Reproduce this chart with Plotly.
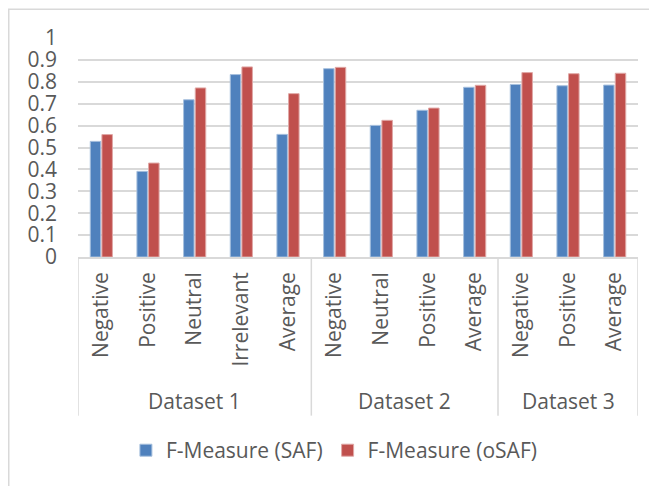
import plotly.graph_objects as go

group_names = ["Dataset 1", "Dataset 2", "Dataset 3"]
group_sizes = [5, 4, 3]
categories = ["Negative", "Positive", "Neutral", "Irrelevant", "Average",
              "Negative", "Neutral", "Positive", "Average",
              "Negative", "Positive", "Average"]
saf = [0.528, 0.391, 0.718, 0.833, 0.560,
       0.860, 0.601, 0.670, 0.775,
       0.788, 0.782, 0.785]
osaf = [0.559, 0.429, 0.772, 0.868, 0.746,
        0.866, 0.624, 0.680, 0.784,
        0.842, 0.837, 0.839]
yticks = [0, 0.1, 0.2, 0.3, 0.4, 0.5, 0.6, 0.7, 0.8, 0.9, 1]
ytext = ["0", "0.1", "0.2", "0.3", "0.4", "0.5", "0.6", "0.7", "0.8", "0.9", "1"]

font = "Open Sans"
grey = "#595959"
line_grey = "#D9D9D9"

xpos = list(range(len(categories)))

fig = go.Figure()
fig.add_trace(go.Bar(x=xpos, y=saf, name="F-Measure (SAF)",
                     marker=dict(color="#4F81BD", line=dict(color="#A7C0DE", width=1))))
fig.add_trace(go.Bar(x=xpos, y=osaf, name="F-Measure (oSAF)",
                     marker=dict(color="#C0504D", line=dict(color="#E0A8A6", width=1))))

# page has an 8px body margin; figure is 649x478 so the page is 657x486
W, H = 649, 478
pl, pr, pt, pb = 70, 630, 29.5, 249  # plot area in figure px
plot_w = pr - pl
plot_h = pb - pt

fig.update_layout(
    width=W, height=H,
    paper_bgcolor="white", plot_bgcolor="white",
    margin=dict(l=pl, r=W - pr, t=pt, b=H - pb, autoexpand=False),
    bargap=0.5, bargroupgap=0.1,
    font=dict(family=font, color=grey, size=20),
    legend=dict(orientation="h", x=0.457, xanchor="center", y=(pb - 443) / plot_h,
                yanchor="middle", font=dict(family=font, size=21, color=grey)),
    showlegend=True,
)
fig.update_yaxes(range=[0, 1], tickvals=yticks, ticktext=ytext, automargin=False,
                 showgrid=True, gridcolor=line_grey, gridwidth=1.5,
                 zeroline=False, showline=False, ticks="", ticklabelstandoff=20,
                 tickfont=dict(family=font, size=21, color=grey))
fig.update_xaxes(range=[-0.5, len(categories) - 0.5], tickvals=xpos, ticktext=categories,
                 tickangle=-90, automargin=False, showgrid=False, zeroline=False,
                 showline=True, linecolor=line_grey, linewidth=1.5,
                 ticks="", ticklabelstandoff=5,
                 tickfont=dict(family=font, size=21, color=grey))

# group dividers and labels
div_bottom = (pb - 408) / plot_h
label_y = (pb - 393) / plot_h
start = -0.5
bounds = [start]
for name, n in zip(group_names, group_sizes):
    end = start + n
    bounds.append(end)
    fig.add_annotation(x=(start + end) / 2, y=label_y, xref="x", yref="paper",
                       text=name, showarrow=False, yanchor="middle",
                       font=dict(family=font, size=21, color=grey))
    start = end
for b in bounds:
    fig.add_shape(type="line", xref="x", yref="paper", x0=b, x1=b, y0=0, y1=div_bottom,
                  line=dict(color=line_grey, width=1.5))

# chart border (left and top edges visible)
fig.add_shape(type="rect", xref="paper", yref="paper",
              x0=(0.75 - pl) / plot_w, x1=1.2, y0=-1.3, y1=(pb - 0.75) / plot_h,
              line=dict(color=line_grey, width=1.5), fillcolor="rgba(0,0,0,0)", layer="below")

fig.write_html("out.html")
